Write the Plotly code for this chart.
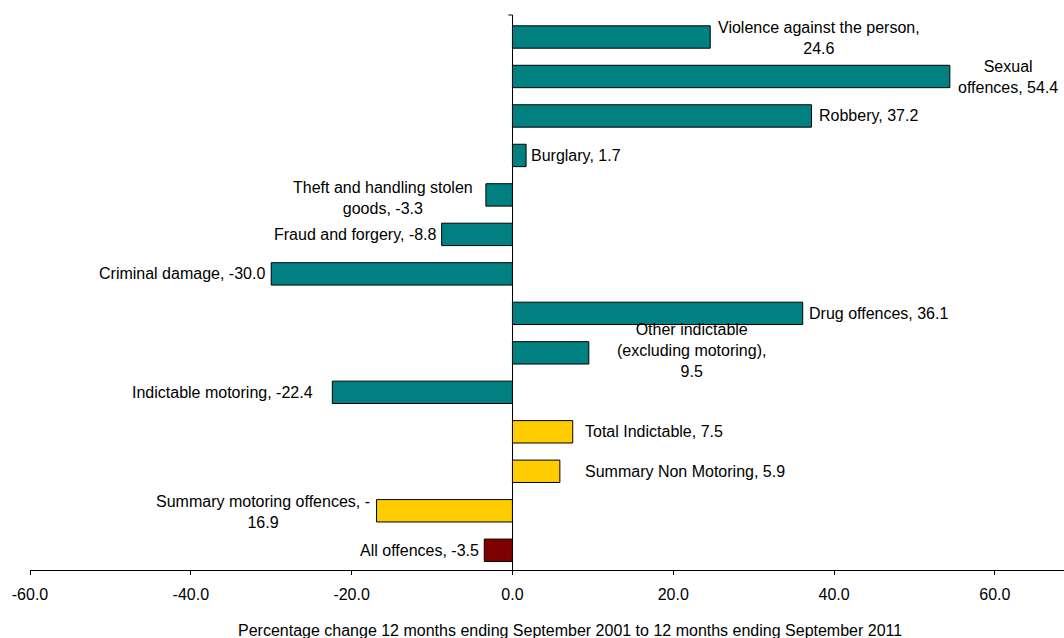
import plotly.graph_objects as go

# ---- data ----
categories = [
    "Violence against the person", "Sexual offences", "Robbery", "Burglary",
    "Theft and handling stolen goods", "Fraud and forgery", "Criminal damage",
    "Drug offences", "Other indictable (excluding motoring)", "Indictable motoring",
    "Total Indictable", "Summary Non Motoring", "Summary motoring offences",
    "All offences",
]
values = [24.6, 54.4, 37.2, 1.7, -3.3, -8.8, -30.0, 36.1, 9.5, -22.4, 7.5, 5.9, -16.9, -3.5]
groups = ["indictable"] * 10 + ["summary"] * 3 + ["all"]
labels = [
    "Violence against the person,<br>24.6",
    "Sexual<br>offences, 54.4",
    "Robbery, 37.2",
    "Burglary, 1.7",
    "Theft and handling stolen<br>goods, -3.3",
    "Fraud and forgery, -8.8",
    "Criminal damage, -30.0",
    "Drug offences, 36.1",
    "Other indictable<br>(excluding motoring),<br>9.5",
    "Indictable motoring, -22.4",
    "Total Indictable, 7.5",
    "Summary Non Motoring, 5.9",
    "Summary motoring offences, -<br>16.9",
    "All offences, -3.5",
]
x_ticks = [-60, -40, -20, 0, 20, 40, 60]
x_tick_text = ["-60.0", "-40.0", "-20.0", "0.0", "20.0", "40.0", "60.0"]
x_title = "Percentage change 12 months ending September 2001 to 12 months ending September 2011"

# ---- style ----
group_colors = {"indictable": "#008080", "summary": "#FFCC00", "all": "#800000"}
label_gap = [6, 6, 5, 3, 11, 3, 4, 4, 26, 17, 10, 23, 5, 3]
label_dy = [-1, -1, 0, 0, -3, 0, 0, 0, 2, 0, 0, 0, -1, 0]
FONT = "Liberation Sans, Arial, sans-serif"

fig = go.Figure(
    go.Bar(
        x=values,
        y=categories,
        orientation="h",
        marker=dict(color=[group_colors[g] for g in groups],
                    line=dict(color="#000000", width=1)),
        hoverinfo="x+y",
    )
)

for cat, val, lab, gap, dy in zip(categories, values, labels, label_gap, label_dy):
    fig.add_annotation(
        x=val, y=cat, xref="x", yref="y", text=lab, showarrow=False,
        xanchor="left" if val > 0 else "right", yanchor="middle",
        xshift=gap if val > 0 else -gap, yshift=dy, align="center",
        font=dict(family=FONT, size=16, color="#000000"),
    )

fig.add_annotation(
    x=0.522, y=-0.109, xref="paper", yref="paper", text=x_title, showarrow=False,
    xanchor="center", yanchor="middle", font=dict(family=FONT, size=16, color="#000000"),
)

# small category-axis tick at the top of the zero line
fig.add_shape(type="line", xref="x", yref="paper", x0=-0.5, x1=0, y0=1, y1=1,
              line=dict(color="#000000", width=1))

fig.update_layout(
    width=1064, height=638,
    margin=dict(l=30, r=0, t=15, b=68),
    paper_bgcolor="white", plot_bgcolor="white",
    showlegend=False,
    bargap=0.433,
    font=dict(family=FONT, size=16, color="#000000"),
    xaxis=dict(
        range=[-60, 68.6], tickvals=x_ticks, ticktext=x_tick_text,
        showgrid=False, zeroline=True, zerolinecolor="#000000", zerolinewidth=1,
        showline=True, linecolor="#000000", linewidth=1,
        ticks="outside", ticklen=4, tickcolor="#000000",
        tickfont=dict(family=FONT, size=16, color="#000000"),
        ticklabelstandoff=6,
    ),
    yaxis=dict(
        autorange="reversed", showticklabels=False, showgrid=False,
        zeroline=False, showline=False, ticks="",
    ),
)

fig.write_html(
    "out.html",
    config={"displayModeBar": False},
    post_script="document.body.style.margin='0';document.body.style.overflow='hidden';",
)
